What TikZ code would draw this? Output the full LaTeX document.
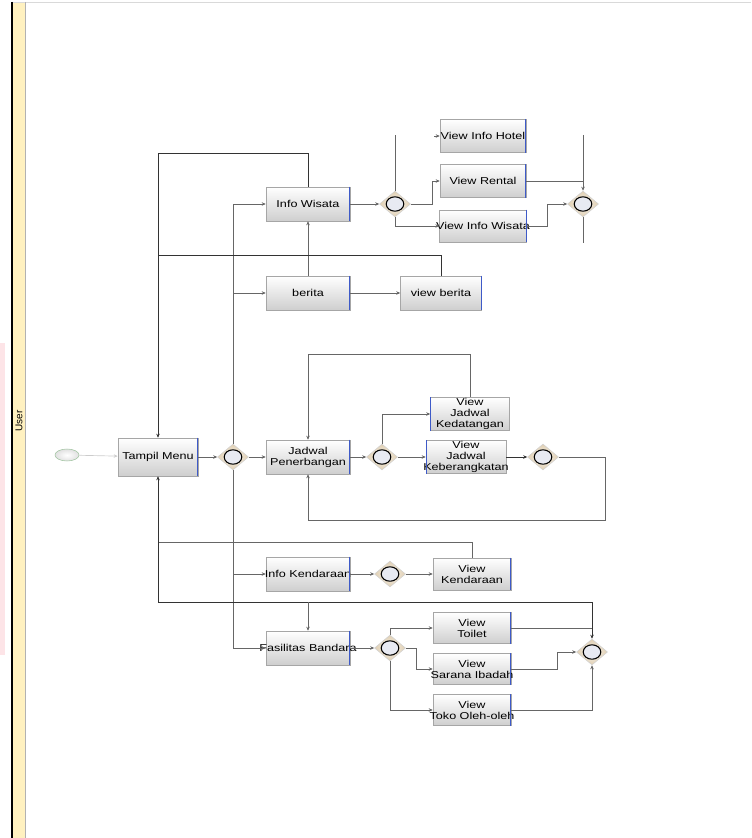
\documentclass[tikz,border=0pt]{standalone}
\usepackage{fontspec}
\newfontfamily\boxfont[FakeStretch=1.26]{Liberation Sans}
\newfontfamily\lanefont{Liberation Sans}
\usetikzlibrary{shapes.geometric}
\usetikzlibrary{arrows.meta}

\definecolor{laneyellow}{RGB}{255,241,192}
\definecolor{gwfill}{RGB}{224,207,178}
\definecolor{edgeblue}{RGB}{62,90,200}
\definecolor{circfill}{RGB}{232,234,242}
\definecolor{wmpink}{RGB}{253,228,231}
\definecolor{startgreen}{RGB}{160,196,160}

\tikzset{
  boxbase/.style={rectangle, draw=black!35, top color=white, bottom color=black!19,
    minimum width=63pt, minimum height=25.5pt, inner xsep=-12pt, inner ysep=0pt,
    align=center, font=\boxfont\fontsize{7.5}{8.25}\selectfont},
  procbox/.style={boxbase,
    append after command={([xshift=-0.4pt]\tikzlastnode.north east) edge[edgeblue, line width=0.8pt] ([xshift=-0.4pt]\tikzlastnode.south east)}},
  procboxL/.style={boxbase,
    append after command={([xshift=0.4pt]\tikzlastnode.north west) edge[edgeblue, line width=0.8pt] ([xshift=0.4pt]\tikzlastnode.south west)}},
  gateway/.style={diamond, draw=black!18, inner color=white!80!gwfill, outer color=gwfill,
    minimum width=23.25pt, minimum height=19.5pt, inner sep=0pt,
    path picture={\draw[black, line width=0.8pt, fill=circfill] (path picture bounding box.center) ellipse (6.6pt and 5.4pt);}},
  startev/.style={ellipse, draw=startgreen, inner color=white, outer color=black!12,
    minimum width=18pt, minimum height=9pt, inner sep=0pt},
  flow/.style={draw=black!60, line width=0.5pt},
  loopline/.style={draw=black!80, line width=0.55pt},
  arr/.style={flow, -{Stealth[length=3pt,width=2.6pt]}}
}

\begin{document}
\begin{tikzpicture}[x=0.75pt,y=0.75pt,yscale=-1,xscale=1]
    \useasboundingbox (0,0) rectangle (751,838);

    % Swimlane
    \fill[wmpink] (0,343) rectangle (5,655);
    \fill[laneyellow] (12,2) rectangle (25,838);
    \draw[black!15] (12,2) -- (751,2);
    \draw[black!30] (25,2) -- (25,838);
    \draw[black, line width=0.9pt] (12,2) -- (12,838);
    \node[rotate=90, inner sep=0pt, font=\lanefont\fontsize{7.5}{8}\selectfont] (lane) at (19,421) {User};

    % Start Node
    \node[startev] (start) at (67,455) {};
    % Process Node
    \node[procbox, minimum width=60pt, minimum height=28.5pt] (menu) at (158,457) {Tampil Menu};
    % Gateway Node
    \node[gateway] (gw1) at (233,457) {};

    % Process Node
    \node[procbox] (wisata) at (308,204) {Info Wisata};
    \node[procbox] (berita) at (308,293) {berita};
    \node[procbox, minimum width=60.75pt] (vberita) at (441,293) {view berita};
    \node[procbox] (jadwal) at (308,457) {Jadwal\\Penerbangan};
    \node[procbox] (kendaraan) at (308,574) {Info Kendaraan};
    \node[procbox] (fasilitas) at (308,648) {Fasilitas Bandara};

    % Info Wisata branch
    \node[gateway] (gw2) at (395,204) {};
    \node[procbox, minimum width=64.5pt, minimum height=24.75pt] (hotel) at (483,136) {View Info Hotel};
    \node[procbox, minimum width=64.5pt, minimum height=24.75pt] (rental) at (483,181) {View Rental};
    \node[procbox, minimum width=65pt, minimum height=24pt] (vwisata) at (483,226) {View Info Wisata};
    \node[gateway] (gw3) at (583,204) {};

    % Jadwal branch
    \node[gateway] (gw4) at (382,457) {};
    \node[procboxL, minimum width=59.25pt, minimum height=24.75pt] (kedatangan) at (470,414) {View\\Jadwal\\Kedatangan};
    \node[procboxL, minimum width=60pt, minimum height=24.75pt] (keberangkatan) at (466,457) {View\\Jadwal\\Keberangkatan};
    \node[gateway] (gw5) at (543,457) {};

    % Kendaraan branch
    \node[gateway] (gw6) at (390,574) {};
    \node[procbox, minimum width=58.5pt, minimum height=24pt] (vkendaraan) at (472,574) {View\\Kendaraan};

    % Fasilitas branch
    \node[gateway] (gw7) at (390,648) {};
    \node[procbox, minimum width=58.5pt, minimum height=23.25pt] (toilet) at (472,628) {View\\Toilet};
    \node[procbox, minimum width=58.5pt, minimum height=23.25pt] (sarana) at (472,669) {View\\Sarana Ibadah};
    \node[procbox, minimum width=58.5pt, minimum height=23.25pt] (toko) at (472,710) {View\\Toko Oleh-oleh};
    \node[gateway] (gw8) at (592,652) {};

    % Loop points
    \coordinate (loopA) at (158,153);
    \coordinate (loopB) at (158,255);
    \coordinate (loopC) at (605,520);
    \coordinate (loopD) at (308,354);
    \coordinate (loopE) at (158,542);
    \coordinate (loopF) at (158,602);
    \coordinate (gw2top) at (395,135);
    \coordinate (gw3top) at (583,135);
    \coordinate (gw3bot) at (583,243);

    % Connector
    \draw[arr, draw=black!20] (start) -- (menu);
    \draw[arr] (menu) -- (gw1);
    \draw[flow] (gw1.north) -- (gw1.north |- wisata);
    \draw[flow] (gw1.south) -- (gw1.south |- fasilitas);
    \draw[arr] (gw1.north |- wisata) -- (wisata);
    \draw[arr] (gw1.north |- berita) -- (berita);
    \draw[arr] (gw1) -- (jadwal);
    \draw[arr] (gw1.south |- kendaraan) -- (kendaraan);
    \draw[arr] (gw1.south |- fasilitas) -- (fasilitas);

    % Connector
    \draw[arr] (berita) -- (vberita);
    \draw[arr] (berita) -- (wisata);
    \draw[arr] (wisata) -- (gw2);
    \draw[flow] (gw2.north) -- (gw2top);
    \draw[arr] ([xshift=-4pt]hotel.west) -- (hotel.west);
    \draw[arr] (gw2.east) -- ++(22,0) |- (rental.west);
    \draw[arr] (gw2.south) |- (vwisata.west);
    \draw[arr] (vwisata.east) -- ++(21,0) |- (gw3.west);
    \draw[flow] (rental.east) -- (rental.east -| gw3.north);
    \draw[arr] (gw3top) -- (gw3.north);
    \draw[flow] (gw3.south) -- (gw3bot);

    % Connector
    \draw[arr, loopline] (wisata.north) |- (loopA) -- (menu.north);
    \draw[loopline] (vberita.north) |- (loopB);

    % Connector
    \draw[arr] (jadwal) -- (gw4);
    \draw[arr] (gw4.north) |- (kedatangan.west);
    \draw[arr] (gw4.east) -- (keberangkatan.west);
    \draw[arr, loopline] (keberangkatan) -- (gw5);
    \draw[arr] (gw5.east) -| (loopC) -| (jadwal.south);
    \draw[arr] (kedatangan.north) |- (loopD) -- (jadwal.north);

    % Connector
    \draw[arr] (kendaraan) -- (gw6);
    \draw[arr] (gw6) -- (vkendaraan);
    \draw[flow] (vkendaraan.north) |- (loopE);

    % Connector
    \draw[arr] (fasilitas) -- (gw7);
    \draw[arr] (gw7.north) |- (toilet.west);
    \draw[arr] (gw7.east) -- ++(11,0) |- (sarana.west);
    \draw[arr] (gw7.south) |- (toko.west);
    \draw[arr] (sarana.east) -- ++(46,0) |- (gw8.west);
    \draw[arr] (toko.east) -| (gw8.south);
    \draw[flow] (toilet.east) -- (toilet.east -| gw8.north);
    \draw[arr, loopline] (loopF) -| (gw8.north);
    \draw[arr] (loopF -| fasilitas.north) -- (fasilitas.north);
    \draw[arr, loopline] (loopF) -- (menu.south);
\end{tikzpicture}
\end{document}
